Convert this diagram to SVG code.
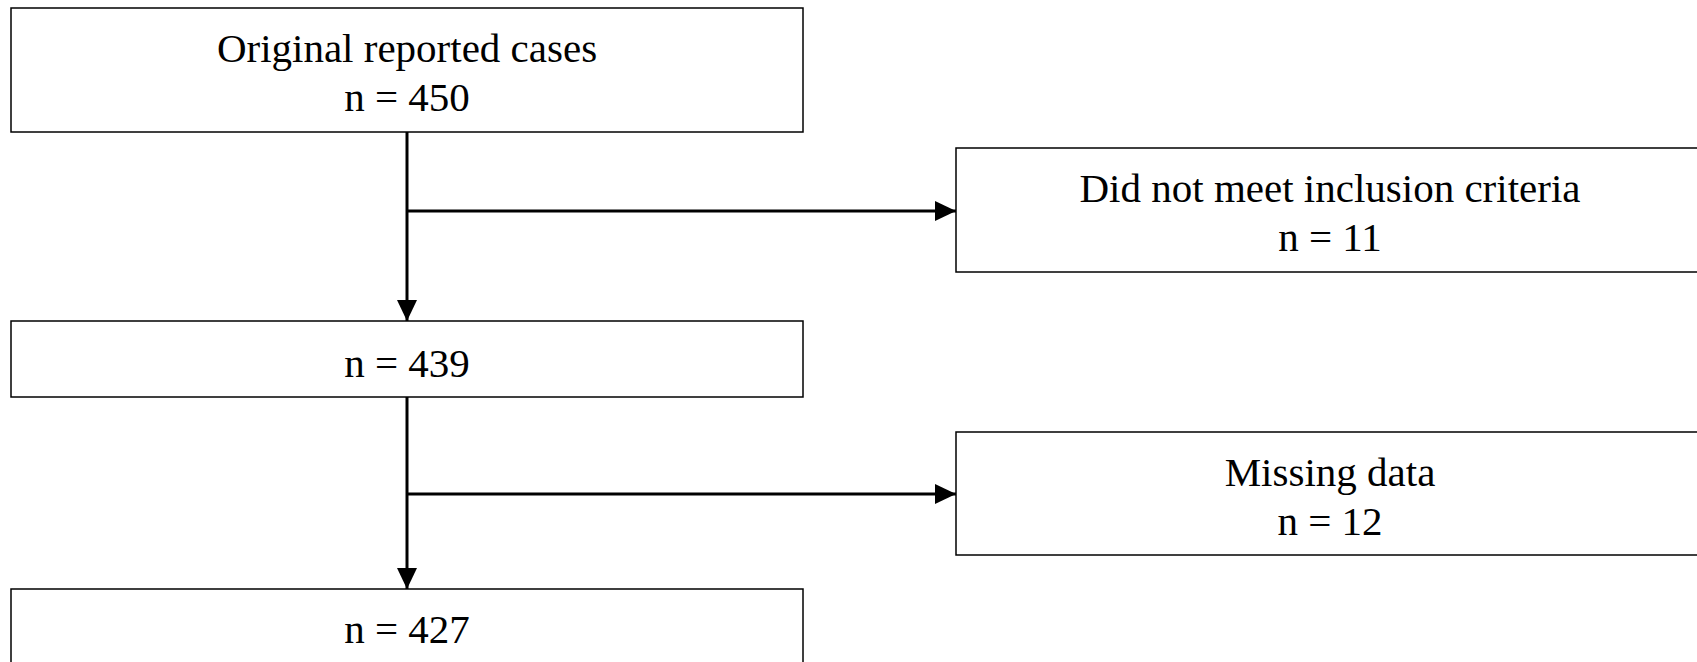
<svg xmlns="http://www.w3.org/2000/svg" width="1697" height="662" viewBox="0 0 1697 662">
<style>
.box{fill:#fff;stroke:#000;stroke-width:1.5}
.t{font-family:"Liberation Serif","Times New Roman",serif;font-size:41px;fill:#000;text-anchor:middle}
.c{stroke:#000;stroke-width:3;fill:none}
</style>
<defs>
<marker id="ah" markerUnits="userSpaceOnUse" markerWidth="22" markerHeight="20" refX="21" refY="10" orient="auto">
<path d="M0,0 L21,10 L0,20 Z" fill="#000"/>
</marker>
</defs>
<rect width="1697" height="662" fill="#fff"/>
<g id="n1"><rect class="box" x="11" y="8" width="792" height="124"/>
<text class="t" x="407" y="62">Original reported cases</text>
<text class="t" x="407" y="111">n = 450</text></g>
<g id="n2"><rect class="box" x="956" y="148" width="745" height="124"/>
<text class="t" x="1330" y="202">Did not meet inclusion criteria</text>
<text class="t" x="1330" y="251">n = 11</text></g>
<g id="n3"><rect class="box" x="11" y="321" width="792" height="76"/>
<text class="t" x="407" y="377">n = 439</text></g>
<g id="n4"><rect class="box" x="956" y="432" width="745" height="123"/>
<text class="t" x="1330" y="486">Missing data</text>
<text class="t" x="1330" y="535">n = 12</text></g>
<g id="n5"><rect class="box" x="11" y="589" width="792" height="90"/>
<text class="t" x="407" y="643">n = 427</text></g>
<g id="connectors">
<line class="c" x1="407" y1="132" x2="407" y2="321" marker-end="url(#ah)"/>
<line class="c" x1="407" y1="211" x2="956" y2="211" marker-end="url(#ah)"/>
<line class="c" x1="407" y1="397" x2="407" y2="589" marker-end="url(#ah)"/>
<line class="c" x1="407" y1="494" x2="956" y2="494" marker-end="url(#ah)"/>
</g>
</svg>
